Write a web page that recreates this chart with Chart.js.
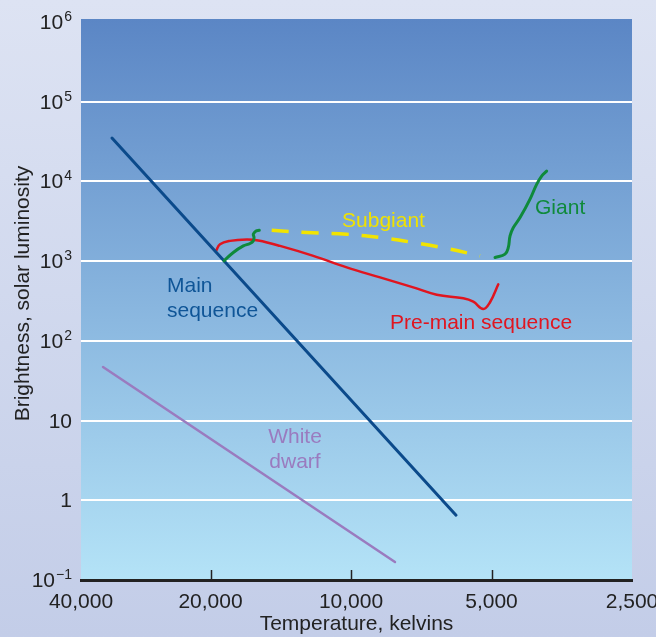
<!DOCTYPE html>
<html>
<head>
<meta charset="utf-8">
<script src="https://cdn.jsdelivr.net/npm/chart.js@4.4.1/dist/chart.umd.min.js"></script>
<style>
  html, body { margin: 0; padding: 0; }
  body { width: 656px; height: 637px; overflow: hidden; background: linear-gradient(#dde3f3, #c3cde8); }
  #wrap { position: relative; width: 656px; height: 637px; }
</style>
</head>
<body>
<div id="wrap"><canvas id="hrChart"></canvas></div>
<script>
// temperature in kelvins (x) and brightness in solar luminosities (y)
const mainSeqTemp = [32520, 5956];
const mainSeqLum = [35000, 0.65];

const dwarfTemp = [33990, 8050];
const dwarfLum = [47, 0.168];

const preMainTemp = [19465, 19083, 18164, 16729, 15800, 14193, 12043, 10214, 8666, 7355, 6551, 5747, 5470, 5207, 5037, 4835];
const preMainLum = [1345, 1631, 1795, 1867, 1815, 1553, 1164, 834, 625, 469, 379, 342, 310, 251, 305, 512];

// green hook leaving the main sequence
const turnoffTemp = [18710, 17873, 17012, 16458, 16193, 16137, 16193, 15979, 15722];
const turnoffLum = [1009, 1285, 1553, 1665, 1795, 1979, 2175, 2393, 2441];

const subgiantTemp = [14788, 12443, 10214, 8666, 7355, 6236, 5292];
const subgiantLum = [2441, 2285, 2175, 1979, 1713, 1442, 1164];

const giantTemp = [4914, 4677, 4602, 4563, 4489, 4343, 4137, 4002, 3904, 3809];
const giantLum = [1112, 1223, 1484, 2072, 2638, 3518, 5957, 9173, 11650, 13450];

// the left edge of the drawn axis carries the 40,000 label
const xMin = 2500;
const xMax = 37890;
const xTicks = [37890, 20000, 10000, 5000, 2500];
const xTickLabels = ['40,000', '20,000', '10,000', '5,000', '2,500'];
const yTicks = [0.1, 1, 10, 100, 1000, 10000, 100000, 1000000];
const yTickBase = ['10', '1', '10', '10', '10', '10', '10', '10'];
const yTickExp = ['\u22121', '', '', '2', '3', '4', '5', '6'];
const yTitle = 'Brightness, solar luminosity';

// curve names, anchored at a temperature / luminosity
const labelText = [['Main', 'sequence'], ['Subgiant'], ['Giant'], ['Pre-main sequence'], ['White', 'dwarf']];
const labelTemp = [24790, 10453, 4034, 8249, 13183];
const labelLum = [410, 2661, 3868, 141, 5.16];

const FONT = "'Liberation Sans', Arial, Helvetica, sans-serif";
const labelColor = ['#0f5597', '#f0e200', '#0f8a3b', '#e0151f', '#9a7bbf'];
const labelAlign = ['left', 'left', 'left', 'left', 'center'];

const pts = (t, l) => t.map((v, i) => ({x: v, y: l[i]}));

const plotBackground = {
  id: 'plotBackground',
  beforeDraw(chart) {
    const {ctx, chartArea: a} = chart;
    const g = ctx.createLinearGradient(0, a.top, 0, a.bottom);
    g.addColorStop(0, '#5b86c5');
    g.addColorStop(1, '#b4e3f7');
    ctx.save();
    ctx.fillStyle = g;
    ctx.fillRect(a.left, a.top, a.right - a.left, a.bottom - a.top);
    ctx.restore();
  }
};

const axisExtras = {
  id: 'axisExtras',
  afterDraw(chart) {
    const {ctx, chartArea: a, scales: {x, y}} = chart;
    ctx.save();
    // small inner tick marks on the temperature axis
    ctx.strokeStyle = '#222';
    ctx.lineWidth = 1.5;
    xTicks.slice(1, -1).forEach(v => {
      const px = Math.round(x.getPixelForValue(v)) + 0.5;
      ctx.beginPath();
      ctx.moveTo(px, a.bottom - 10);
      ctx.lineTo(px, a.bottom);
      ctx.stroke();
    });
    // powers of ten with superscripts
    ctx.fillStyle = '#222';
    ctx.textBaseline = 'alphabetic';
    yTicks.forEach((v, i) => {
      const py = y.getPixelForValue(v) + 7;
      ctx.font = '14px ' + FONT;
      const ew = yTickExp[i] ? ctx.measureText(yTickExp[i]).width + 1 : 0;
      const right = 72;
      if (yTickExp[i]) {
        ctx.textAlign = 'left';
        ctx.fillText(yTickExp[i], right - ew + 1, py - 8);
      }
      ctx.font = '21px ' + FONT;
      ctx.textAlign = 'right';
      ctx.fillText(yTickBase[i], right - ew, py);
    });
    // y axis title, sitting a little above the middle of the plot
    ctx.save();
    ctx.translate(23, (a.top + a.bottom) / 2 - 6);
    ctx.rotate(-Math.PI / 2);
    ctx.textAlign = 'center';
    ctx.textBaseline = 'middle';
    ctx.font = '21px ' + FONT;
    ctx.fillText(yTitle, 0, 0);
    ctx.restore();
    // curve names
    ctx.font = '21px ' + FONT;
    labelText.forEach((lines, i) => {
      const px = x.getPixelForValue(labelTemp[i]);
      const py = y.getPixelForValue(labelLum[i]);
      ctx.fillStyle = labelColor[i];
      ctx.textAlign = labelAlign[i];
      lines.forEach((t, j) => ctx.fillText(t, px, py + j * 25));
    });
    ctx.restore();
  }
};

new Chart(document.getElementById('hrChart'), {
  type: 'line',
  data: {
    datasets: [
      {label: 'Giant hook', data: pts(turnoffTemp, turnoffLum), borderColor: '#0f8a3b', borderWidth: 3, tension: 0.4},
      {label: 'Giant', data: pts(giantTemp, giantLum), borderColor: '#0f8a3b', borderWidth: 3, tension: 0.4},
      {label: 'Main sequence', data: pts(mainSeqTemp, mainSeqLum), borderColor: '#0b4a8b', borderWidth: 3, tension: 0},
      {label: 'Pre-main sequence', data: pts(preMainTemp, preMainLum), borderColor: '#e0151f', borderWidth: 2.5, tension: 0.4},
      {label: 'Subgiant', data: pts(subgiantTemp, subgiantLum), borderColor: '#f2e400', borderWidth: 3.5, borderDash: [17, 13], borderCapStyle: 'butt', tension: 0.4},
      {label: 'White dwarf', data: pts(dwarfTemp, dwarfLum), borderColor: '#9a7bbf', borderWidth: 2.5, tension: 0}
    ]
  },
  options: {
    responsive: true,
    maintainAspectRatio: false,
    animation: false,
    elements: {
      point: {radius: 0},
      line: {fill: false, borderCapStyle: 'round', borderJoinStyle: 'round'}
    },
    layout: {padding: {top: 19, right: 24, left: 0, bottom: 0}},
    plugins: {
      legend: {display: false},
      tooltip: {enabled: false}
    },
    scales: {
      x: {
        type: 'logarithmic',
        reverse: true,
        min: xMin,
        max: xMax,
        afterBuildTicks: s => { s.ticks = xTicks.map(v => ({value: v})); },
        afterFit: s => { s.height = 57; s.paddingLeft = 0; s.paddingRight = 0; },
        grid: {display: false, drawTicks: false},
        border: {display: true, color: '#222', width: 3},
        ticks: {
          autoSkip: false, maxRotation: 0, padding: 10, color: '#222',
          font: {size: 21, family: FONT},
          callback: (v, i) => xTickLabels[i]
        },
        title: {display: true, text: 'Temperature, kelvins', color: '#222', font: {size: 21, family: FONT}, padding: {top: 0, bottom: 0}}
      },
      y: {
        type: 'logarithmic',
        min: 0.1,
        max: 1.09e6,
        afterBuildTicks: s => { s.ticks = yTicks.map(v => ({value: v})); },
        afterFit: s => { s.width = 81; s.paddingTop = 0; s.paddingBottom = 0; },
        grid: {
          drawTicks: false,
          lineWidth: 2,
          color: c => (c.tick && (c.tick.value < 0.5 || c.tick.value > 5e5)) ? 'rgba(0,0,0,0)' : '#ffffff'
        },
        border: {display: false},
        ticks: {display: false}
      }
    }
  },
  plugins: [plotBackground, axisExtras]
});
</script>
</body>
</html>
